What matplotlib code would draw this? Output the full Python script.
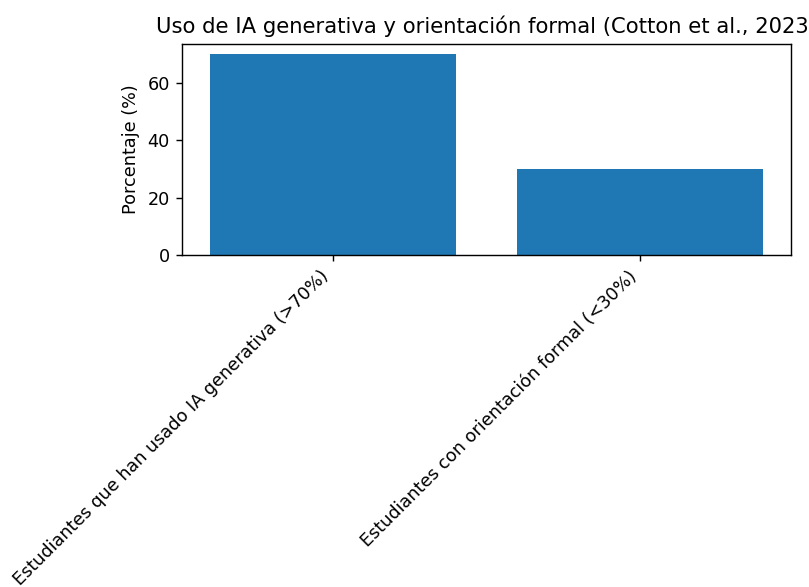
import matplotlib
matplotlib.use("Agg")
import matplotlib.pyplot as plt

categorias = ["Estudiantes que han usado IA generativa (>70%)",
              "Estudiantes con orientación formal (<30%)"]
porcentajes = [70, 30]

# reference looks like a 100-dpi figure rendered a bit bigger, so scale via dpi
fig = plt.figure(figsize=(809 / 127, 587 / 127), dpi=127)
ax = fig.add_axes([0.225, 0.5656, 0.7528, 0.3594])
ax.bar(categorias, porcentajes, color="#1f77b4")
ax.set_ylabel("Porcentaje (%)")
ax.set_title("Uso de IA generativa y orientación formal (Cotton et al., 2023)")
plt.setp(ax.get_xticklabels(), rotation=45, ha="right")
fig.savefig("out.png", dpi=127)
